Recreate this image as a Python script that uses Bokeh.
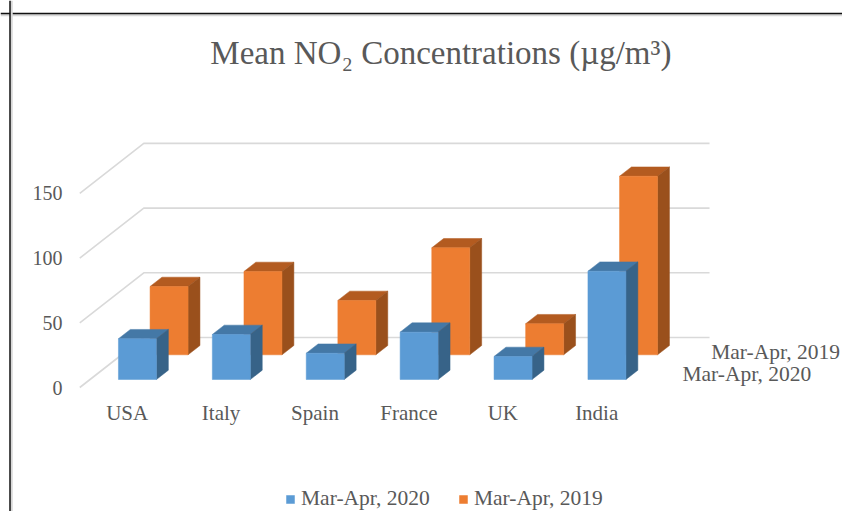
from bokeh.plotting import figure
from bokeh.models import Range1d, LinearAxis, FixedTicker, Span, Legend, LegendItem, ColumnDataSource
from bokeh.core.properties import value
from bokeh.embed import file_html
from bokeh.resources import INLINE

categories = ["USA", "Italy", "Spain", "France", "UK", "India"]
mar_apr_2020 = [31.5, 34.8, 20.3, 36.6, 17.8, 83.7]
mar_apr_2019 = [52.8, 64.4, 42.0, 82.7, 24.0, 138.0]
y_ticks = [0, 50, 100, 150]
title_text = "Mean NO₂ Concentrations  (µg/m³)"
series_names = ["Mar-Apr, 2020", "Mar-Apr, 2019"]

W, H = 842, 511
PX_PER_CAT = 93.9
PX_PER_VAL = 1.294
DX = 64 / PX_PER_CAT      # full depth, in category units
DY = 50 / PX_PER_VAL      # full depth, in value units
BAR = 38 / PX_PER_CAT
FONT = "Liberation Serif"
TEXT = "#595959"

# canvas: category 0 sits 126.7px from the left edge, value 0 sits 387px from the top
x0 = -126.7 / PX_PER_CAT
y1 = 387 / PX_PER_VAL
p = figure(width=W, height=H, output_backend="svg", toolbar_location=None,
           x_range=Range1d(x0, x0 + W / PX_PER_CAT),
           y_range=Range1d(y1 - H / PX_PER_VAL, y1),
           min_border=0, outline_line_color=None, x_axis_type=None, y_axis_type=None)
p.xgrid.visible = False
p.ygrid.visible = False


def pt(x, v, d):
    return x + d * DX, v + d * DY


# gridlines: along the left wall, then along the back wall
gx, gy = [], []
for t in y_ticks:
    a, b = pt(-0.505, t, 0), pt(-0.505, t, 1)
    c = pt(5.52, t, 1)
    gx.append([a[0], b[0], c[0]])
    gy.append([a[1], b[1], c[1]])
p.multi_line(gx, gy, line_color="#D9D9D9", line_width=1.6)


def bars(values, d0, d1, front, top, side):
    fx, fy, tx, ty, sx, sy = [], [], [], [], [], []
    for i, v in enumerate(values):
        l, r = i - BAR / 2, i + BAR / 2
        A, B = pt(l, 0, d0), pt(r, 0, d0)
        C, D = pt(r, v, d0), pt(l, v, d0)
        E, F = pt(r, v, d1), pt(l, v, d1)
        G = pt(r, 0, d1)
        fx.append([A[0], B[0], C[0], D[0]]); fy.append([A[1], B[1], C[1], D[1]])
        tx.append([D[0], C[0], E[0], F[0]]); ty.append([D[1], C[1], E[1], F[1]])
        sx.append([B[0], G[0], E[0], C[0]]); sy.append([B[1], G[1], E[1], C[1]])
    p.patches(tx, ty, fill_color=top, line_color=top, line_width=0.5)
    p.patches(sx, sy, fill_color=side, line_color=side, line_width=0.5)
    return p.patches(fx, fy, fill_color=front, line_color=front, line_width=0.5)


r19 = bars(mar_apr_2019, 0.654, 0.84, "#ED7D31", "#B35B20", "#9A501C")
r20 = bars(mar_apr_2020, 0.16, 0.346, "#5B9BD5", "#4478A6", "#376388")

# value axis
yax = LinearAxis(ticker=FixedTicker(ticks=y_ticks), fixed_location=x0 + 62 / PX_PER_CAT,
                 axis_line_color=None, major_tick_line_color=None, minor_tick_line_color=None,
                 major_tick_out=0, major_label_standoff=0, major_label_text_font=FONT,
                 major_label_text_font_size="20px", major_label_text_color=TEXT)
p.add_layout(yax, "left")

# category axis
xax = LinearAxis(ticker=FixedTicker(ticks=list(range(len(categories)))),
                 major_label_overrides={i: c for i, c in enumerate(categories)},
                 fixed_location=-3.9,
                 axis_line_color=None, major_tick_line_color=None, minor_tick_line_color=None,
                 major_tick_out=0, major_label_standoff=8, major_label_text_font=FONT,
                 major_label_text_font_size="21px", major_label_text_color=TEXT)
p.add_layout(xax, "below")

# series-depth labels
sl = ColumnDataSource(dict(x=[pt(6.49, 0, 0.16)[0], pt(6.46, 0, 0.654)[0]],
                           y=[pt(0, 4, 0.16)[1], pt(0, 2.5, 0.654)[1]],
                           t=series_names))
p.text("x", "y", "t", source=sl, text_font=value(FONT), text_font_size="21.5px",
       text_color=TEXT, text_align="center", text_baseline="middle")

# title
p.text([(444.5 - 126.7) / PX_PER_CAT], [(387 - 52) / PX_PER_VAL], [title_text], text_font=value(FONT),
       text_font_size="33px", text_color=TEXT, text_align="center", text_baseline="middle")

# picture frame, top and left
for loc, dim, col, w in [(y1 - 14.5 / PX_PER_VAL, "width", "#D8D8D8", 2.5),
                         (y1 - 13 / PX_PER_VAL, "width", "#111111", 1.5),
                         (x0 + 11 / PX_PER_CAT, "height", "#D8D8D8", 2.5),
                         (x0 + 9.5 / PX_PER_CAT, "height", "#111111", 1.5)]:
    p.add_layout(Span(location=loc, dimension=dim, line_color=col, line_width=w))

legend = Legend(items=[LegendItem(label=series_names[0], renderers=[r20]),
                       LegendItem(label=series_names[1], renderers=[r19])],
                orientation="horizontal", location=(285, 0), background_fill_alpha=0,
                border_line_color=None, glyph_width=10, glyph_height=10,
                label_text_font=FONT, label_text_font_size="21.5px", label_text_color=TEXT,
                label_standoff=6, spacing=28, padding=4, margin=0)
p.add_layout(legend)

open("out.html", "w").write(file_html(p, INLINE))
